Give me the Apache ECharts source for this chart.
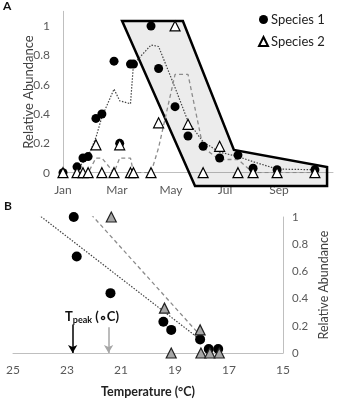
<!doctype html>
<html>
<head>
<meta charset="utf-8">
<title>Relative abundance</title>
<style>
  html, body { margin: 0; padding: 0; background: #fff; }
  #main { width: 338px; height: 400px; }
</style>
</head>
<body>
<div id="main"></div>
<script src="https://cdn.jsdelivr.net/npm/echarts@6/dist/echarts.min.js"></script>
<script>
// ---- panel A: abundance over the season (x = months after 1 Jan) ----
var sampleMonths = [0, 0.52, 0.74, 0.93, 1.22, 1.44, 1.89, 2.1, 2.5, 2.61, 3.26, 3.54, 4.15, 4.63, 5.19, 5.8, 6.48, 7.04, 7.93, 9.33];
var species1 = [0, 0.04, 0.1, 0.11, 0.37, 0.4, 0.76, 0.2, 0.74, 0.74, 1.0, 0.71, 0.45, 0.25, 0.18, 0.1, 0.12, 0.03, 0.02, 0.02];
var species2 = [0, 0, 0, 0, 0.19, 0, 0, 0.19, 0, 0, 0, 0.34, 1.0, 0.33, 0, 0.18, 0, 0, 0, 0];
// trend lines as drawn, they start at the second sample
var trend1 = [null, 0.02, 0.07, 0.11, 0.24, 0.38, 0.57, 0.49, 0.47, 0.74, 0.87, 0.86, 0.58, 0.35, 0.21, 0.14, 0.11, 0.075, 0.025, 0.02];
var trend2 = [null, 0, 0, 0, 0.1, 0.1, 0, 0.1, 0.1, 0, 0, 0.17, 0.67, 0.67, 0.17, 0.09, 0.09, 0, 0, 0];
var monthTicks = ['Jan', 'Mar', 'May', 'Jul', 'Sep'];
// outline of the shaded window
var peakWindow = [[2.19, 1.034], [4.44, 1.034], [6.33, 0.155], [9.78, 0.039], [9.78, -0.09], [4.89, -0.09]];

// ---- panel B: abundance vs temperature ----
var temp1 = [22.75, 22.64, 21.39, 19.43, 19.14, 18.07, 17.75, 17.4];
var abund1 = [1.0, 0.71, 0.44, 0.23, 0.17, 0.1, 0.03, 0.03];
var temp2 = [21.36, 19.39, 19.14, 18.07, 18.04, 17.71, 17.36];
var abund2 = [1.0, 0.33, 0, 0.17, 0, 0, 0];
var fit1 = [[24.14, 1.03], [18.14, 0.11]];
var fit2 = [[22.11, 1.02], [18.07, 0.13]];
var tPeak = [22.79, 21.46];
var arrowTop = [0.21, 0.19];

function pairs(xs, ys) {
    var out = [];
    for (var i = 0; i < xs.length; i++) {
        if (ys[i] !== null) out.push([xs[i], ys[i]]);
    }
    return out;
}

var FONT = 'Lato';
var axisGrey = '#bfbfbf';
var labelGrey = '#595959';

var chart = echarts.init(document.getElementById('main'));

chart.setOption({
    animation: false,
    textStyle: { fontFamily: FONT },
    title: [
        { text: 'A', left: 3, top: 0, padding: 0, textStyle: { fontSize: 12, fontWeight: 'bold', color: '#111', fontFamily: FONT } },
        { text: 'B', left: 4, top: 200, padding: 0, textStyle: { fontSize: 12, fontWeight: 'bold', color: '#111', fontFamily: FONT } }
    ],
    legend: {
        data: ['Species 1', 'Species 2'],
        orient: 'vertical',
        left: 253,
        top: 8,
        itemWidth: 9,
        itemHeight: 9,
        itemGap: 9,
        textStyle: { fontSize: 13, color: '#222', fontFamily: FONT, padding: [0, 0, 0, -2] }
    },
    graphic: [{
        type: 'text',
        left: 65,
        top: 310,
        style: {
            text: '{b|T}{s|peak}{b| (\u2218C)}',
            rich: {
                b: { fontSize: 13, fontWeight: 'bold', fill: '#111', fontFamily: FONT },
                s: { fontSize: 9, fontWeight: 'bold', fill: '#111', fontFamily: FONT, padding: [7, 0, 0, 0] }
            }
        }
    }],
    grid: [
        { left: 63, top: 11.3, width: 270, height: 161.4 },
        { left: 13, top: 217, width: 280, height: 136 }
    ],
    xAxis: [{
        gridIndex: 0,
        type: 'value',
        min: 0,
        max: 10,
        interval: 2,
        axisLine: { lineStyle: { color: axisGrey, width: 1 } },
        axisTick: { show: false },
        splitLine: { show: false },
        axisLabel: {
            margin: 11,
            fontSize: 12,
            color: labelGrey,
            formatter: function (v) { return monthTicks[v / 2] || ''; }
        }
    }, {
        gridIndex: 1,
        type: 'value',
        min: 15,
        max: 25,
        interval: 2,
        inverse: true,
        axisLine: { lineStyle: { color: axisGrey, width: 1 } },
        axisTick: { show: false },
        splitLine: { show: false },
        axisLabel: { margin: 11, fontSize: 12, color: labelGrey },
        name: 'Temperature (\u00B0C)',
        nameLocation: 'middle',
        nameGap: 32,
        nameMoveOverlap: false,
        nameTextStyle: { fontSize: 12.5, fontWeight: 'bold', color: '#222', fontFamily: FONT }
    }],
    yAxis: [{
        gridIndex: 0,
        type: 'value',
        min: 0,
        max: 1.1,
        interval: 0.2,
        axisLine: { show: true, lineStyle: { color: axisGrey, width: 1 } },
        axisTick: { show: false },
        splitLine: { show: false },
        axisLabel: {
            margin: 13,
            fontSize: 12,
            color: labelGrey,
            formatter: function (v) { return v > 1.05 ? '' : String(Math.round(v * 10) / 10); }
        },
        name: 'Relative Abundance',
        nameLocation: 'middle',
        nameGap: 28,
        nameMoveOverlap: false,
        nameTextStyle: { fontSize: 13, color: '#404040', fontFamily: FONT }
    }, {
        gridIndex: 1,
        type: 'value',
        position: 'right',
        min: 0,
        max: 1,
        interval: 0.2,
        axisLine: { show: true, onZero: false, lineStyle: { color: axisGrey, width: 1 } },
        axisTick: { show: false },
        splitLine: { show: false },
        axisLabel: { margin: 9, fontSize: 11.5, color: labelGrey },
        name: 'Relative Abundance',
        nameLocation: 'middle',
        nameRotate: 90,
        nameGap: 34,
        nameMoveOverlap: false,
        nameTextStyle: { fontSize: 12.5, color: '#404040', fontFamily: FONT }
    }],
    series: [
        {
            name: 'window',
            type: 'custom',
            xAxisIndex: 0,
            yAxisIndex: 0,
            clip: false,
            silent: true,
            z: 1,
            data: [[0, 0]],
            renderItem: function (params, api) {
                var pts = peakWindow.map(function (p) { return api.coord(p); });
                return {
                    type: 'polygon',
                    shape: { points: pts },
                    style: { fill: 'rgba(0,0,0,0.075)', stroke: '#000', lineWidth: 2.5, lineJoin: 'miter' }
                };
            }
        },
        {
            name: 'trend 1',
            type: 'line',
            xAxisIndex: 0,
            yAxisIndex: 0,
            symbol: 'none',
            z: 2,
            lineStyle: { color: '#444', width: 1.2, type: [1.5, 1.5] },
            data: pairs(sampleMonths, trend1)
        },
        {
            name: 'trend 2',
            type: 'line',
            xAxisIndex: 0,
            yAxisIndex: 0,
            symbol: 'none',
            z: 2,
            lineStyle: { color: '#8c8c8c', width: 1.3, type: [4, 3] },
            data: pairs(sampleMonths, trend2)
        },
        {
            name: 'Species 1',
            type: 'scatter',
            xAxisIndex: 0,
            yAxisIndex: 0,
            clip: false,
            z: 3,
            symbol: 'circle',
            symbolSize: 9,
            itemStyle: { color: '#000', opacity: 1 },
            data: pairs(sampleMonths, species1)
        },
        {
            name: 'Species 2',
            type: 'scatter',
            xAxisIndex: 0,
            yAxisIndex: 0,
            clip: false,
            z: 4,
            symbol: 'triangle',
            symbolSize: 10,
            itemStyle: { color: '#fff', borderColor: '#000', borderWidth: 1.2, opacity: 1 },
            data: pairs(sampleMonths, species2)
        },
        {
            name: 'fit 1',
            type: 'line',
            xAxisIndex: 1,
            yAxisIndex: 1,
            symbol: 'none',
            z: 2,
            lineStyle: { color: '#444', width: 1.2, type: [1.5, 1.5] },
            data: fit1,
            markLine: {
                silent: true,
                symbol: ['none', 'arrow'],
                symbolSize: [7, 8],
                label: { show: false },
                data: [
                    [{ coord: [tPeak[0], arrowTop[0]], lineStyle: { color: '#000', width: 1.5, type: 'solid' } }, { coord: [tPeak[0], 0] }],
                    [{ coord: [tPeak[1], arrowTop[1]], lineStyle: { color: '#a6a6a6', width: 1.5, type: 'solid' } }, { coord: [tPeak[1], 0] }]
                ]
            }
        },
        {
            name: 'fit 2',
            type: 'line',
            xAxisIndex: 1,
            yAxisIndex: 1,
            symbol: 'none',
            z: 2,
            lineStyle: { color: '#8c8c8c', width: 1.3, type: [4, 3] },
            data: fit2
        },
        {
            name: 'Species 1',
            type: 'scatter',
            xAxisIndex: 1,
            yAxisIndex: 1,
            clip: false,
            z: 3,
            symbol: 'circle',
            symbolSize: 10,
            itemStyle: { color: '#000', opacity: 1 },
            data: pairs(temp1, abund1)
        },
        {
            name: 'Species 2',
            type: 'scatter',
            xAxisIndex: 1,
            yAxisIndex: 1,
            clip: false,
            z: 4,
            symbol: 'triangle',
            symbolSize: 10,
            itemStyle: { color: '#a6a6a6', borderColor: '#222', borderWidth: 1.2, opacity: 1 },
            data: pairs(temp2, abund2)
        }
    ]
});

window.addEventListener('resize', function () {
    chart.resize();
});
</script>
</body>
</html>
